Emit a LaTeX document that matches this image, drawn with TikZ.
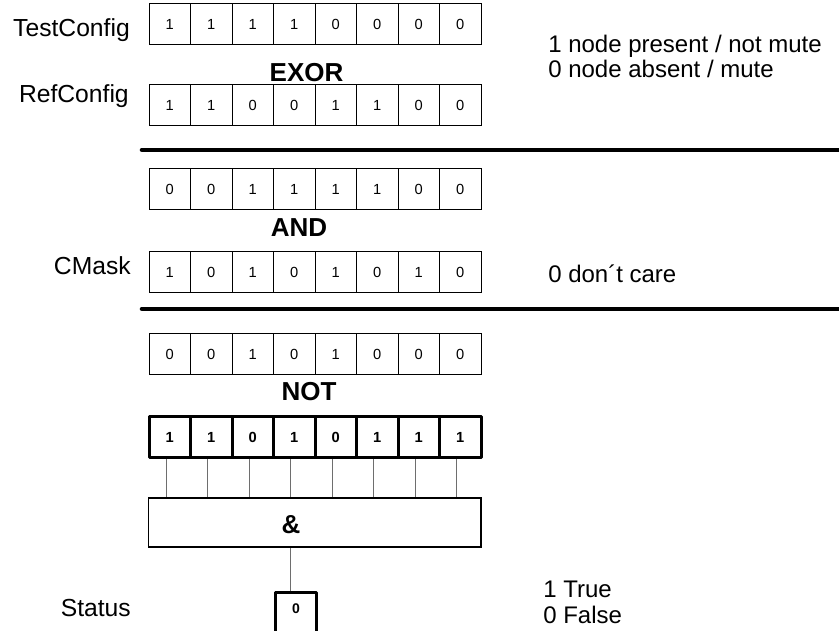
\documentclass[tikz,border=0pt]{standalone}
\usepackage{fontspec}
\setmainfont{Liberation Sans}
\definecolor{connc}{RGB}{110,110,110}
\begin{document}
\begin{tikzpicture}[x=0.75pt,y=-0.75pt,
  lab/.style={inner sep=0pt, font=\fontsize{18.5}{22}\selectfont},
  legend/.style={inner sep=0pt, font=\fontsize{18}{22}\selectfont},
  op/.style={inner sep=0pt, font=\fontsize{19.5}{22}\selectfont\bfseries},
  cell/.style={draw, line width=0.75pt, minimum width=31.125pt, minimum height=30.75pt, inner sep=0pt, text depth=-1.5pt, font=\fontsize{11}{12}\selectfont},
  boldcell/.style={cell, line width=2.25pt, line join=round, font=\fontsize{11}{12}\selectfont\bfseries},
  conn/.style={draw=connc, line width=0.75pt},
  sepline/.style={line width=3.4pt, line cap=round}]
\useasboundingbox (0,0) rectangle (839,631);

% rows of cells
\foreach \v [count=\i] in {1,1,1,1,0,0,0,0}
  \node[cell] (ta\i) at ({169.75+41.5*(\i-1)},24) {\v};
\foreach \v [count=\i] in {1,1,0,0,1,1,0,0}
  \node[cell] (rf\i) at ({169.75+41.5*(\i-1)},105.5) {\v};
\foreach \v [count=\i] in {0,0,1,1,1,1,0,0}
  \node[cell] (ex\i) at ({169.75+41.5*(\i-1)},189.5) {\v};
\foreach \v [count=\i] in {1,0,1,0,1,0,1,0}
  \node[cell] (cm\i) at ({169.75+41.5*(\i-1)},272) {\v};
\foreach \v [count=\i] in {0,0,1,0,1,0,0,0}
  \node[cell] (an\i) at ({169.75+41.5*(\i-1)},354) {\v};

% AND gate box
\node[draw, line width=1.1pt, minimum width=249.4pt, minimum height=36.75pt, inner sep=0pt] (andbox) at (314.75,522.5) {};
\node[op, anchor=base] (amp) at (291,533) {\&};

% connectors from the inverted row to the gate
\foreach \i in {1,...,8}
  \draw[conn] ([xshift=-2.8pt]ta\i.south |- 0,457.5) coordinate (c\i) -- (c\i |- andbox.north);

\foreach \v [count=\i] in {1,1,0,1,0,1,1,1}
  \node[boldcell] (nt\i) at ({169.75+41.5*(\i-1)},437) {\v};

% status box
\node[draw, line width=2.25pt, line join=round, minimum width=30.75pt, minimum height=32.6pt, inner sep=0pt, anchor=north] (status) at (296,590.5) {};
\node[inner sep=0pt, anchor=center, font=\fontsize{10.5}{12}\selectfont\bfseries] (sval) at (296,608.5) {0};
\draw[conn] ([xshift=-4.5pt]status.north) -- ([xshift=-4.5pt]status.north |- andbox.south);

% separator lines
\draw[sepline] (142,150) -- (845,150);
\draw[sepline] (142,309) -- (845,309);

% operator labels
\node[op, anchor=base] (exor) at (306.5,82) {EXOR};
\node[op, anchor=base] (andop) at (299,236) {AND};
\node[op, anchor=base] (notop) at (309,400) {NOT};

% row labels
\node[lab, anchor=base east] (tlab) at (130,37) {TestConfig};
\node[lab, anchor=base east] (rlab) at (129,103) {RefConfig};
\node[lab, anchor=base east] (clab) at (131,274) {CMask};
\node[lab, anchor=base east] (slab) at (131,616) {Status};

% legends
\node[legend, anchor=base west] (leg1) at (548,53) {1 node present / not mute};
\node[legend, anchor=base west] (leg2) at (548,78) {0 node absent / mute};
\node[legend, anchor=base west] (leg3) at (548,282) {0 don´t care};
\node[legend, anchor=base west] (leg4) at (543,597) {1 True};
\node[legend, anchor=base west] (leg5) at (543,623) {0 False};
\end{tikzpicture}
\end{document}
